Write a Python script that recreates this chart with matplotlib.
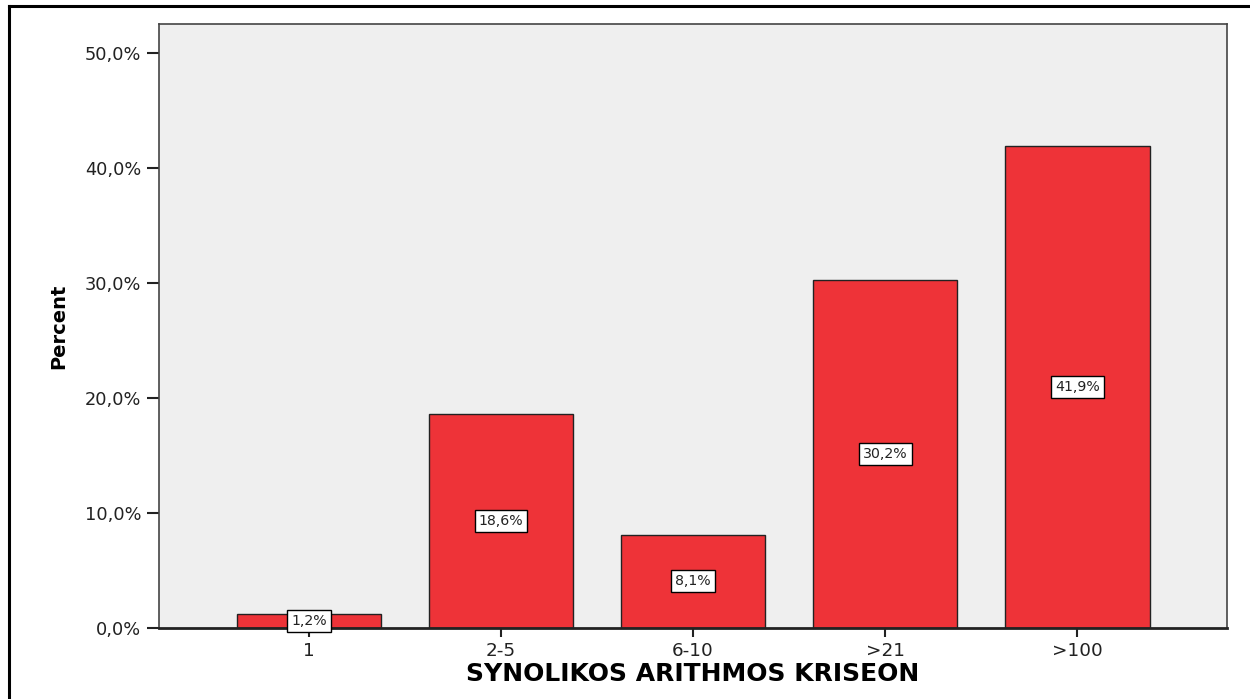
import matplotlib
matplotlib.use("Agg")
import matplotlib.pyplot as plt
from matplotlib.lines import Line2D
from matplotlib.ticker import FuncFormatter

categories = ["1", "2-5", "6-10", ">21", ">100"]
percents = [1.2, 18.6, 8.1, 30.2, 41.9]
yticks = [0, 10, 20, 30, 40, 50]

plt.rcParams["font.family"] = ["DejaVu Sans"]

fig = plt.figure(figsize=(12.5, 6.99), dpi=100)
ax = fig.add_axes([0.1274, 0.102, 0.9816 - 0.1274, 0.9657 - 0.102])
ax.set_facecolor("#efefef")

x = list(range(len(categories)))
ax.bar(x, percents, width=0.75, color="#ee3338", edgecolor="#222222",
       linewidth=1.0, zorder=2)

for xi, p in zip(x, percents):
    ax.text(xi, p / 2, f"{p:.1f}%".replace(".", ","), ha="center", va="center",
            fontsize=10.2, color="#222222", zorder=4,
            bbox=dict(boxstyle="square,pad=0.28", facecolor="white",
                      edgecolor="black", linewidth=1.0))

ax.set_xlim(-0.778, len(categories) - 1 + 0.778)
ax.set_ylim(0, 52.5)
ax.set_xticks(x)
ax.set_xticklabels(categories)
ax.set_yticks(yticks)
ax.yaxis.set_major_formatter(FuncFormatter(lambda v, _: f"{v:.1f}%".replace(".", ",")))
ax.tick_params(axis="y", direction="out", length=8.6, width=1.5, color="#222222",
               labelsize=12.8, labelcolor="#222222", pad=4.3)
ax.tick_params(axis="x", direction="out", length=6.5, width=1.5, color="#222222",
               labelsize=13.2, labelcolor="#222222", pad=3.5)

for side in ["top", "left", "right"]:
    ax.spines[side].set_color("#444444")
    ax.spines[side].set_linewidth(1.2)
ax.spines["bottom"].set_color("#222222")
ax.spines["bottom"].set_linewidth(2)
ax.spines["bottom"].set_zorder(3)

ax.set_xlabel("SYNOLIKOS ARITHMOS KRISEON", fontsize=18, fontweight="bold",
              color="black", labelpad=1.5)
ax.set_ylabel("Percent", fontsize=14, fontweight="bold", color="black",
              labelpad=12)

# outer frame of the figure
W, H = 1250, 699
fig.add_artist(Line2D([9 / W, 1.0], [1 - 6 / H, 1 - 6 / H],
                      transform=fig.transFigure, color="black", linewidth=2.2))
fig.add_artist(Line2D([9 / W, 9 / W], [0.0, 1 - 6 / H],
                      transform=fig.transFigure, color="black", linewidth=2.2))

fig.savefig("out.png", dpi=100)
